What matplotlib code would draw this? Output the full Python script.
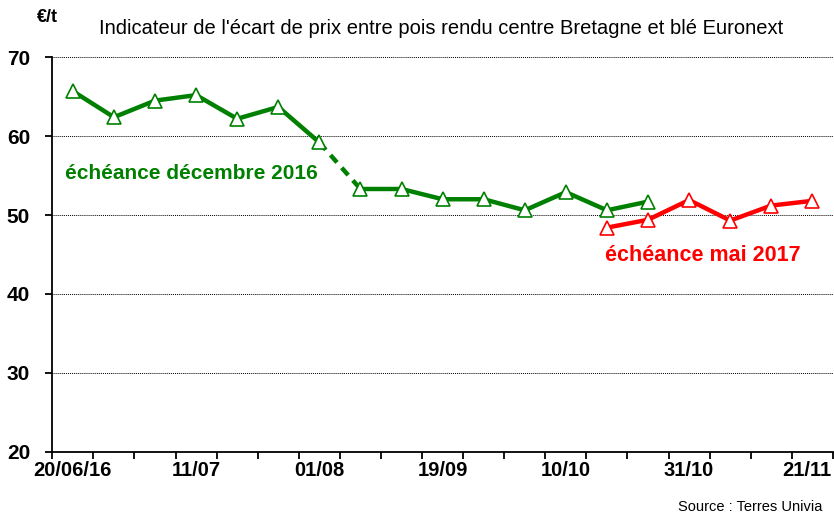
import numpy as np
import matplotlib
matplotlib.use("Agg")
import matplotlib.pyplot as plt
from matplotlib.transforms import ScaledTranslation

# dates hebdomadaires (trou en août entre 01/08 et 05/09)
dates = ["20/06/16", "27/06", "04/07", "11/07", "18/07", "25/07", "01/08",
         "05/09", "12/09", "19/09", "26/09", "03/10", "10/10", "17/10",
         "24/10", "31/10", "07/11", "14/11", "21/11"]
label_every = 3

# échéance décembre 2016
dec16 = [65.7, 62.4, 64.5, 65.2, 62.2, 63.7, 59.2,
         53.3, 53.3, 52.0, 52.0, 50.6, 52.9, 50.6, 51.7]
# échéance mai 2017 (commence à la 14e semaine)
mai17_start = 13
mai17 = [48.4, 49.4, 51.9, 49.3, 51.2, 51.8]
gap_after = 6  # index du dernier point avant le trou d'août

GREEN = "#008000"
RED = "#ff0000"

plt.rcParams["font.family"] = ["Liberation Sans", "DejaVu Sans"]

fig = plt.figure(figsize=(8.34, 5.19), dpi=100)
ax = fig.add_axes([0.0627, 0.1297, 0.936, 0.76])

x_dec = np.arange(len(dec16))
y_dec = np.array(dec16)
x_mai = np.arange(mai17_start, mai17_start + len(mai17))

mk = dict(marker="^", markersize=9.5, markerfacecolor="white", markeredgewidth=1.2)
lw = 3.2

ax.plot(x_dec[:gap_after + 1], y_dec[:gap_after + 1], color=GREEN, lw=lw,
        markeredgecolor=GREEN, **mk, zorder=3)
ax.plot(x_dec[gap_after:gap_after + 2], y_dec[gap_after:gap_after + 2], color=GREEN,
        lw=lw, ls=(0, (2.2, 1.6)), zorder=2)
ax.plot(x_dec[gap_after + 1:], y_dec[gap_after + 1:], color=GREEN, lw=lw,
        markeredgecolor=GREEN, **mk, zorder=3)
ax.plot(x_mai, mai17, color=RED, lw=lw, markeredgecolor=RED, **mk, zorder=4)

ax.set_xlim(-0.5, len(dates) - 0.5)
ax.set_ylim(20, 70)
ax.set_yticks(range(20, 71, 10))
for v in range(30, 71, 10):
    ax.axhline(v, color="black", lw=0.7, ls=(0, (1, 1)), zorder=1)

ax.set_xticks(np.arange(0, len(dates), label_every),
              [dates[i] for i in range(0, len(dates), label_every)])
ax.set_xticks(np.arange(-0.5, len(dates)), minor=True)
ax.tick_params(axis="x", which="major", length=0, pad=7, labelsize=14.5)
ax.tick_params(axis="x", which="minor", length=5, width=1.3, direction="out")
ax.tick_params(axis="y", length=5, width=1.3, direction="out", labelsize=15, pad=11)
for lab in ax.get_xticklabels() + ax.get_yticklabels():
    lab.set_fontweight("bold")
last = ax.get_xticklabels()[-1]
last.set_ha("right")
last.set_transform(last.get_transform() + ScaledTranslation(19 / 100, 0, fig.dpi_scale_trans))

for s in ["top", "right"]:
    ax.spines[s].set_visible(False)
ax.spines["left"].set_linewidth(1.3)
ax.spines["bottom"].set_linewidth(1.3)

fig.text(0.044, 0.966, "€/t", fontsize=13, fontweight="bold", ha="left", va="center")
fig.text(0.529, 0.945, "Indicateur de l'écart de prix entre pois rendu centre Bretagne et blé Euronext",
         fontsize=14.5, ha="center", va="center")
ax.text(0.016, 0.706, "échéance décembre 2016", transform=ax.transAxes, color=GREEN,
        fontsize=15, fontweight="bold", ha="left", va="center")
ax.text(0.958, 0.497, "échéance mai 2017", transform=ax.transAxes, color=RED,
        fontsize=15.5, fontweight="bold", ha="right", va="center")
fig.text(0.986, 0.023, "Source : Terres Univia", fontsize=10.5, ha="right", va="center")

fig.savefig("out.png", dpi=100)
